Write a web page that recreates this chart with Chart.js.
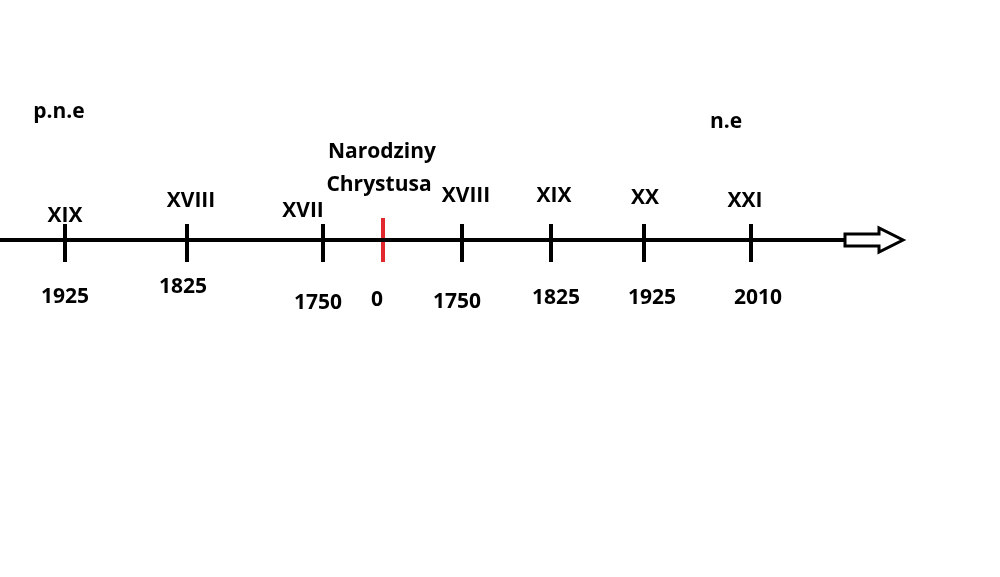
<!DOCTYPE html>
<html><head><meta charset="utf-8">
<script src="https://cdn.jsdelivr.net/npm/chart.js@4"></script>
<style>html,body{margin:0;padding:0;background:#fff}#w{width:1000px;height:577px}</style>
</head><body><div id="w"><canvas id="c"></canvas></div>
<script>
// Timeline data
const tickPos = [65, 187, 323, 462, 551, 644, 751];
const centuries = ["XIX", "XVIII", "XVII", "XVIII", "XIX", "XX", "XXI"];
const years = ["1925", "1825", "1750", "1750", "1825", "1925", "2010"];
const birthPos = [383];
const birthLabel = ["Narodziny", "Chrystusa"];
const birthYear = ["0"];
const eraLabels = ["p.n.e", "n.e"];
const axisRange = [0, 845];

// layout (pixel offsets relative to axis, not data)
const centDx = [0, 4, -20, 4, 3, 1, -6];
const centDy = [-24, -39, -29, -44, -44, -42, -39];
const yearDx = [0, -4, -5, -5, 5, 8, 7];
const yearDy = [57, 47, 63, 62, 58, 58, 58];
const AXIS_Y = 240;

const font = 'bold 21px "Open Sans", "DejaVu Sans", sans-serif';
const labels = {
  id: 'labels',
  afterDatasetsDraw(chart) {
    const {ctx, scales: {x, y}} = chart;
    ctx.save();
    ctx.fillStyle = '#000';
    ctx.font = font;
    ctx.textAlign = 'center';
    ctx.textBaseline = 'middle';
    const ay = y.getPixelForValue(AXIS_Y);
    tickPos.forEach((p, i) => {
      const px = x.getPixelForValue(p);
      ctx.fillText(centuries[i], px + centDx[i], ay + centDy[i]);
      ctx.fillText(years[i], px + yearDx[i], ay + yearDy[i]);
    });
    const bx = x.getPixelForValue(birthPos[0]);
    ctx.fillText(birthLabel[0], bx - 1, ay - 88);
    ctx.fillText(birthLabel[1], bx - 4, ay - 55);
    ctx.fillText(birthYear[0], bx - 6, ay + 60);
    ctx.fillText(eraLabels[0], 59, 112);
    ctx.fillText(eraLabels[1], 726, 122);
    // hollow arrow head
    const x0 = x.getPixelForValue(axisRange[1]);
    ctx.strokeStyle = '#000';
    ctx.lineWidth = 3;
    ctx.lineJoin = 'miter';
    ctx.beginPath();
    ctx.moveTo(x0, ay - 6);
    ctx.lineTo(x0 + 34, ay - 6);
    ctx.lineTo(x0 + 34, ay - 12);
    ctx.lineTo(x0 + 58, ay);
    ctx.lineTo(x0 + 34, ay + 12);
    ctx.lineTo(x0 + 34, ay + 6);
    ctx.lineTo(x0, ay + 6);
    ctx.closePath();
    ctx.fillStyle = '#fff';
    ctx.fill();
    ctx.stroke();
    ctx.restore();
  }
};

new Chart(document.getElementById('c'), {
  type: 'scatter',
  data: {
    datasets: [
      { data: axisRange.map(v => ({x: v, y: AXIS_Y})), showLine: true, borderColor: '#000', borderWidth: 4, pointRadius: 0 },
      { data: tickPos.map(v => ({x: v, y: AXIS_Y + 3})), pointStyle: 'line', rotation: 90, radius: 19, borderColor: '#000', borderWidth: 4 },
      { data: birthPos.map(v => ({x: v, y: AXIS_Y})), pointStyle: 'line', rotation: 90, radius: 22, borderColor: '#e0282e', borderWidth: 4 }
    ]
  },
  plugins: [labels],
  options: {
    responsive: true, maintainAspectRatio: false, animation: false,
    layout: { padding: 0, autoPadding: false },
    plugins: { legend: { display: false }, tooltip: { enabled: false } },
    scales: {
      x: { type: 'linear', min: 0, max: 1000, display: false },
      y: { type: 'linear', min: 0, max: 577, reverse: true, display: false }
    }
  }
});
</script></body></html>
